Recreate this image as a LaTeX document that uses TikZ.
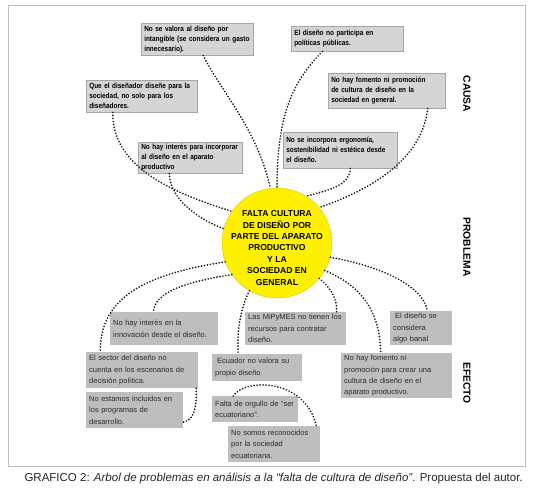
\documentclass[tikz,border=0pt]{standalone}
\usepackage{fontspec}
\setmainfont{Liberation Sans}
\newfontfamily\condfont[FakeStretch=0.86]{Liberation Sans}
\definecolor{cbg}{HTML}{D5D5D5}
\definecolor{cbd}{HTML}{A6A6A6}
\definecolor{ebg}{HTML}{BEBEBE}
\definecolor{yel}{HTML}{FFF000}
\definecolor{dotc}{HTML}{1A1A1A}
\definecolor{etext}{HTML}{2B2B2B}
\begin{document}
\begin{tikzpicture}[x=1pt,y=-1pt,
 cbox/.style={draw=cbd, line width=0.5pt, fill=cbg, anchor=north west, align=left, inner xsep=3pt, inner ysep=2pt, font=\condfont\bfseries\fontsize{7.5}{10}\selectfont, text=black},
 ebox/.style={fill=ebg, anchor=north west, align=left, inner xsep=3pt, inner ysep=2pt, font=\fontsize{7.5}{11.4}\selectfont, text=etext},
 dots/.style={draw=dotc, line width=1.9pt, line cap=round, dash pattern=on 0pt off 3pt},
 side/.style={rotate=-90, font=\bfseries\fontsize{10.3}{12}\selectfont}]
\useasboundingbox (0,0) rectangle (533,494);
\fill[white] (0,0) rectangle (533,494);
\draw[gray!50, line width=0.6pt] (8,5) rectangle (525,466);

% causes
\node[cbox, text width=106pt, minimum height=32pt] (c1) at (141,23) {No se valora al diseño por\\intangible (se considera un gasto\\innecesario).};
\node[cbox, text width=106pt, minimum height=25pt] (c2) at (291,26) {El diseño no participa en\\políticas públicas.};
\node[cbox, text width=105pt, minimum height=32pt] (c3) at (86,80) {Que el diseñador diseñe para la\\sociedad, no solo para los\\diseñadores.};
\node[cbox, text width=111pt, minimum height=35pt] (c4) at (328,73) {No hay fomento ni promoción\\de cultura de diseño en la\\sociedad en general.};
\node[cbox, text width=98pt, minimum height=31pt] (c5) at (138,142) {No hay interés para incorporar\\al diseño en el aparato\\productivo};
\node[cbox, text width=108pt, minimum height=36pt] (c6) at (283,132) {No se incorpora ergonomía,\\sostenibilidad ni estética desde\\el diseño.};

% problem
\node[circle, fill=yel, draw=yel!85!black, line width=0.4pt, minimum size=110pt, inner sep=0pt] (p) at (277,243) {};
\node[align=center, font=\bfseries\fontsize{8.6}{11.4}\selectfont] (ptext) at (277,248) {FALTA CULTURA\\DE DISEÑO POR\\PARTE DEL APARATO\\PRODUCTIVO\\Y LA\\SOCIEDAD EN\\GENERAL};

% effects
\node[ebox, text width=102pt, minimum height=33pt] (e1) at (110,312) {No hay interés en la\\innovación desde el diseño.};
\node[ebox, text width=95pt, minimum height=33pt] (e2) at (245,312) {Las MiPyMES no tienen los\\recursos para contratar\\diseño.};
\node[ebox, text width=56pt, minimum height=34pt] (e3) at (390,311) {\hspace{2pt}El diseño se\\considera\\algo banal};
\node[ebox, text width=106pt, minimum height=36pt] (e4) at (86,352) {El sector del diseño no\\cuenta en los escenarios de\\decisión política.};
\node[ebox, text width=84pt, minimum height=27pt] (e5) at (212,354) {\hspace{2pt}Ecuador no valora su\\propio diseño};
\node[ebox, text width=105pt, minimum height=43pt] (e6) at (341,353) {No hay fomento ni\\promoción para crear una\\cultura de diseño en el\\aparato productivo.};
\node[ebox, text width=91pt, minimum height=36pt] (e7) at (86,392) {No estamos incluidos en\\los programas de\\desarrollo.};
\node[ebox, text width=80pt, minimum height=26pt] (e8) at (212,396) {Falta de orgullo de “ser\\ecuatoriano”.};
\node[ebox, text width=86pt, minimum height=36pt] (e9) at (228,426) {No somos reconocidos\\por la sociedad\\ecuatoriana.};

% side labels
\node[side] (lc) at (467,94) {CAUSA};
\node[side] (lp) at (467,247) {PROBLEMA};
\node[side] (le) at (467,383) {EFECTO};

% cause connectors
\draw[dots] ([xshift=6pt]c1.south) .. controls (220,90) and (258,130) .. (p.97);
\draw[dots] ([xshift=-25pt]c2.south) .. controls (295,80) and (277,110) .. (p.90);
\draw[dots] ([xshift=-29pt]c3.south) .. controls (112,170) and (180,195) .. (p.145);
\draw[dots] ([xshift=-21pt]c5.south) .. controls (170,200) and (200,220) .. (p.165);
\draw[dots] ([xshift=41pt]c4.south) .. controls (422,160) and (370,190) .. (p.40);
\draw[dots] ([xshift=10pt]c6.south) .. controls (350,185) and (330,190) .. (p.58);

% effect connectors
\draw[dots] (p.200) .. controls (140,275) and (100,300) .. ([xshift=-42pt]e4.north);
\draw[dots] (p.215) .. controls (185,282) and (155,292) .. ([xshift=-11pt]e1.north);
\draw[dots] (p.240) .. controls (240,310) and (237,330) .. ([xshift=-19pt]e5.north);
\draw[dots] (p.320) .. controls (333,290) and (337,300) .. ([xshift=41pt]e2.north);
\draw[dots] (p.330) .. controls (360,285) and (380,310) .. ([xshift=-16pt]e6.north);
\draw[dots] (p.345) .. controls (390,268) and (425,290) .. ([xshift=6pt]e3.north);
\draw[dots] ([xshift=54pt]e4.south) .. controls (197,410) and (193,420) .. ([yshift=-12pt]e7.east);
\draw[dots] ([xshift=-22pt]e8.north) .. controls (245,378) and (305,378) .. ([xshift=-4pt]e9.north east);

% caption
\node[anchor=base west, font=\fontsize{11.5}{13}\selectfont, text=black!85] (cap) at (21,481) {GRAFICO 2: \textit{Arbol de problemas en análisis a la “falta de cultura de diseño”}. Propuesta del autor.};
\end{tikzpicture}
\end{document}
